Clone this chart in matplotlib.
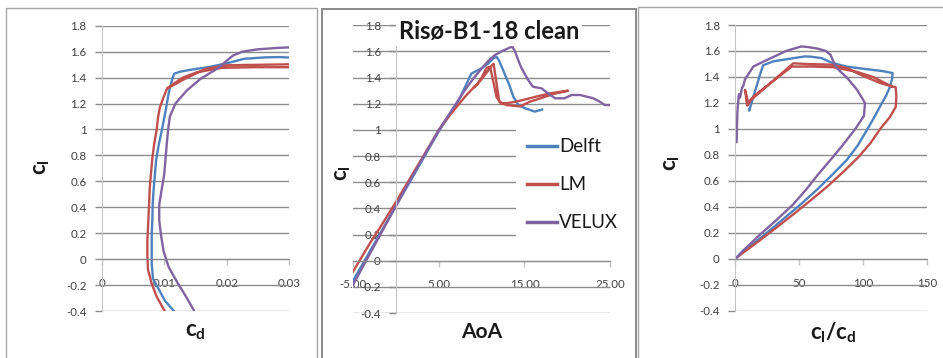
import matplotlib
matplotlib.use("Agg")
import matplotlib.pyplot as plt
from matplotlib.patches import Rectangle
from matplotlib.lines import Line2D
import numpy as np

# ---------------- data: Risø-B1-18, clean surface ----------------
series_names = ["Delft", "LM", "VELUX"]
series_colors = ["#4F81BD", "#C0504D", "#8064A2"]

delft_aoa = [-7.4, -6.5, -5.0, -4.0, -3.0, -2.0, -1.0, 0.0, 1.0, 2.0, 3.0, 4.0, 5.0,
             6.0, 7.0, 7.5, 8.0, 8.5, 8.8, 9.2, 9.7, 10.2, 10.8, 11.3, 11.6, 11.75,
             11.9, 12.1, 12.3, 12.8, 13.2, 13.7, 14.3, 15.1, 16.2, 17.2]
delft_cl = [-0.42, -0.32, -0.15, -0.036, 0.078, 0.192, 0.306, 0.42, 0.534, 0.648,
            0.762, 0.876, 0.99, 1.09, 1.19, 1.25, 1.32, 1.39, 1.43, 1.445, 1.46, 1.48,
            1.51, 1.545, 1.556, 1.558, 1.545, 1.52, 1.49, 1.41, 1.35, 1.255, 1.19,
            1.165, 1.14, 1.158]
delft_cd = [0.0119, 0.0101, 0.0082, 0.0080, 0.0080, 0.0080, 0.0081, 0.00815, 0.0083,
            0.0085, 0.0087, 0.0091, 0.0096, 0.0100, 0.0104, 0.0106, 0.0109, 0.0113,
            0.0116, 0.0125, 0.0142, 0.0170, 0.0200, 0.0228, 0.0262, 0.0285, 0.0336,
            0.0507, 0.0677, 0.073, 0.077, 0.086, 0.0944, 0.0979, 0.1036, 0.1016]

# LM: polar measured up through stall to 20 deg and back down again
lm_aoa = [-8.2, -7.0, -6.0, -5.0, -4.0, -3.0, -2.0, -1.0, 0.0, 1.0, 2.0, 3.0, 4.0,
          5.0, 6.0, 7.0, 7.5, 8.0, 8.5, 9.0, 9.5, 10.0, 10.5, 10.9, 11.2, 11.3, 11.4,
          12.06, 12.9, 14.5, 15.65, 16.8, 18.4, 20.1,
          18.0, 16.4, 14.9, 13.5, 12.3, 11.75, 11.0, 10.8, 10.6, 10.3, 10.0, 9.5, 9.0]
lm_cl = [-0.42, -0.29, -0.19, -0.08, 0.03, 0.14, 0.24, 0.345, 0.45, 0.56, 0.67, 0.78,
         0.89, 1.0, 1.09, 1.17, 1.21, 1.25, 1.285, 1.32, 1.35, 1.39, 1.43, 1.467,
         1.495, 1.50, 1.505, 1.216, 1.19, 1.18, 1.216, 1.24, 1.275, 1.30,
         1.28, 1.255, 1.23, 1.21, 1.20, 1.25, 1.48, 1.48, 1.475, 1.44, 1.40, 1.35, 1.32]
lm_cd = [0.0103, 0.0088, 0.0080, 0.0074, 0.0073, 0.0073, 0.0074, 0.0075, 0.0076,
         0.0077, 0.0079, 0.0081, 0.0084, 0.0088, 0.0090, 0.0093, 0.0096, 0.0099,
         0.0102, 0.0105, 0.0118, 0.0133, 0.0150, 0.0166, 0.0200, 0.027, 0.033,
         0.104, 0.113, 0.124, 0.135, 0.1425, 0.155, 0.167,
         0.1524, 0.1394, 0.1281, 0.1186, 0.1132, 0.0868, 0.0333, 0.0247, 0.0192,
         0.01516, 0.01296, 0.01144, 0.01065]

velux_aoa = [-7.0, -6.0, -5.0, -4.0, -3.0, -2.0, -1.0, 0.0, 1.0, 2.0, 3.0, 4.0, 5.0,
             6.0, 7.0, 8.0, 9.0, 10.0, 10.8, 11.5, 12.3, 12.9, 13.3, 13.6, 13.9, 14.3,
             14.6, 15.45, 16.0, 17.0, 18.0, 18.6, 19.7, 20.5, 21.5, 23.05, 23.8, 24.4,
             25.0, 27.0, 30.0, 35.0, 40.0]
velux_cl = [-0.40, -0.29, -0.18, -0.06, 0.06, 0.18, 0.30, 0.42, 0.54, 0.655, 0.77,
            0.885, 1.0, 1.1, 1.2, 1.3, 1.39, 1.47, 1.53, 1.57, 1.60, 1.618, 1.63,
            1.635, 1.60, 1.53, 1.48, 1.38, 1.33, 1.318, 1.267, 1.242, 1.242, 1.267,
            1.267, 1.242, 1.216, 1.19, 1.19, 1.15, 1.08, 0.98, 0.89]
velux_cd = [0.0148, 0.0135, 0.0121, 0.0107, 0.0099, 0.0095, 0.0092, 0.0092, 0.0096,
            0.0100, 0.0102, 0.0104, 0.01062, 0.0109, 0.0118, 0.0136, 0.0158, 0.0185,
            0.0200, 0.0210, 0.0225, 0.0250, 0.0285, 0.0315, 0.040, 0.0617, 0.1035,
            0.177, 0.205, 0.24, 0.28, 0.31, 0.345, 0.373, 0.409, 0.444, 0.468, 0.496,
            0.517, 0.575, 0.635, 0.676, 0.712]

cl_ticks = [-0.4, -0.2, 0, 0.2, 0.4, 0.6, 0.8, 1, 1.2, 1.4, 1.6, 1.8]
cl_tick_labels = ["-0.4", "-0.2", "0", "0.2", "0.4", "0.6", "0.8", "1", "1.2", "1.4", "1.6", "1.8"]
cd_ticks = [0, 0.01, 0.02, 0.03]
cd_tick_labels = ["0", "0.01", "0.02", "0.03"]
aoa_ticks = [-5, 5, 15, 25]
aoa_tick_labels = ["-5.00", "5.00", "15.00", "25.00"]
ld_ticks = [0, 50, 100, 150]
ld_tick_labels = ["0", "50", "100", "150"]
title_text = "Risø-B1-18 clean"

# ---------------- styling ----------------
plt.rcParams["font.family"] = ["Lato", "DejaVu Sans"]
plt.rcParams["mathtext.fontset"] = "custom"
plt.rcParams["mathtext.rm"] = "Lato"
plt.rcParams["mathtext.it"] = "Lato:italic"
plt.rcParams["mathtext.bf"] = "Lato:bold"

W, H = 943, 358
fig = plt.figure(figsize=(W / 100, H / 100), dpi=100)
fig.patch.set_facecolor("white")

GRID = "#8c8c8c"
AXIS = "#c4c4c4"
TICKTXT = "#404040"
LW = 1.7


def add_px_axes(x0, x1, y_top, y_bot):
    return fig.add_axes([x0 / W, 1 - y_bot / H, (x1 - x0) / W, (y_bot - y_top) / H])


def frame(x0, x1, y_top, color="#a6a6a6", lw=1.0):
    r = Rectangle((x0 / W, -0.2), (x1 - x0) / W, 1 - y_top / H + 0.2,
                  transform=fig.transFigure, fill=False, edgecolor=color, lw=lw,
                  clip_on=False)
    fig.add_artist(r)


def style(ax, xlim, xticks, xlabels, y_axis_at):
    ax.set_xlim(*xlim)
    ax.set_ylim(-0.4, 1.8)
    ax.set_yticks(cl_ticks)
    ax.set_yticklabels(cl_tick_labels)
    ax.set_xticks(xticks)
    ax.set_xticklabels(xlabels)
    ax.set_facecolor("none")
    for s in ["top", "right"]:
        ax.spines[s].set_visible(False)
    ax.spines["left"].set_position(("data", y_axis_at))
    ax.spines["left"].set_color(AXIS)
    ax.spines["bottom"].set_position(("data", 0))
    ax.spines["bottom"].set_color(GRID)
    ax.yaxis.grid(True, color=GRID, lw=1.0)
    ax.set_axisbelow(True)
    ax.tick_params(axis="y", direction="out", length=5, width=1, color=GRID,
                   labelsize=8.3, labelcolor=TICKTXT, pad=6)
    ax.tick_params(axis="x", direction="out", length=4, width=1, color=AXIS,
                   labelsize=8.3, labelcolor=TICKTXT, pad=9.5)


def plot_series(ax, xs, ys):
    for x, y, c in zip(xs, ys, series_colors):
        ax.plot(x, y, color=c, lw=LW, solid_joinstyle="round", solid_capstyle="butt")


def fig_text(x, y, s, **kw):
    fig.text(x / W, 1 - y / H, s, ha="center", va="center", **kw)


cl_all = [np.array(delft_cl), np.array(lm_cl), np.array(velux_cl)]
cd_all = [np.array(delft_cd), np.array(lm_cd), np.array(velux_cd)]
aoa_all = [np.array(delft_aoa), np.array(lm_aoa), np.array(velux_aoa)]
ld_all = [cl / cd for cl, cd in zip(cl_all, cd_all)]

# panel frames
frame(6, 317, 8)
frame(322, 636, 9, color="#8a8a8a", lw=1.4)
frame(638, 990, 7)

# ---- panel 1: cl vs cd ----
ax1 = add_px_axes(101.7, 289.3, 25.7, 311.0)
style(ax1, (0, 0.03), cd_ticks, cd_tick_labels, 0)
plot_series(ax1, cd_all, cl_all)
fig_text(41.7, 166.7, r"$\mathbf{c}_\mathbf{l}$", fontsize=16, rotation=90, color="#1a1a1a")
fig_text(195, 331.7, r"$\mathbf{c}_\mathbf{d}$", fontsize=16, color="#1a1a1a")

# ---- panel 2: cl vs angle of attack ----
ax2 = add_px_axes(353.3, 610.0, 25.3, 313.0)
style(ax2, (-5, 25), aoa_ticks, aoa_tick_labels, 0)
plot_series(ax2, aoa_all, cl_all)
fig_text(343, 173, r"$\mathbf{c}_\mathbf{l}$", fontsize=16, rotation=90, color="#1a1a1a")
fig_text(481.7, 331.7, "AoA", fontsize=15, fontweight="bold", color="#1a1a1a")
fig_text(489, 31.5, title_text, fontsize=17, fontweight="bold", color="#1a1a1a",
         bbox=dict(facecolor="white", edgecolor="none", pad=2))
handles = [Line2D([], [], color=c, lw=LW + 0.8) for c in series_colors]
leg = ax2.legend(handles, series_names, loc="upper left",
                 bbox_to_anchor=(515.5 / W, 1 - 127 / H), bbox_transform=fig.transFigure,
                 frameon=True, fancybox=False, edgecolor="none", facecolor="white",
                 framealpha=1, fontsize=13.5, handlelength=1.6, handletextpad=0.12,
                 labelspacing=1.12, borderpad=0.6, borderaxespad=0)
for t in leg.get_texts():
    t.set_color("#1a1a1a")

# ---- panel 3: cl vs lift-to-drag ratio ----
ax3 = add_px_axes(735.0, 926.7, 25.0, 310.7)
style(ax3, (0, 150), ld_ticks, ld_tick_labels, 0)
plot_series(ax3, ld_all, cl_all)
fig_text(671.7, 163, r"$\mathbf{c}_\mathbf{l}$", fontsize=16, rotation=90, color="#1a1a1a")
fig_text(833, 333, r"$\mathbf{c}_\mathbf{l}\mathbf{/c}_\mathbf{d}$", fontsize=16, color="#1a1a1a")

fig.savefig("out.png", dpi=100, facecolor="white")
